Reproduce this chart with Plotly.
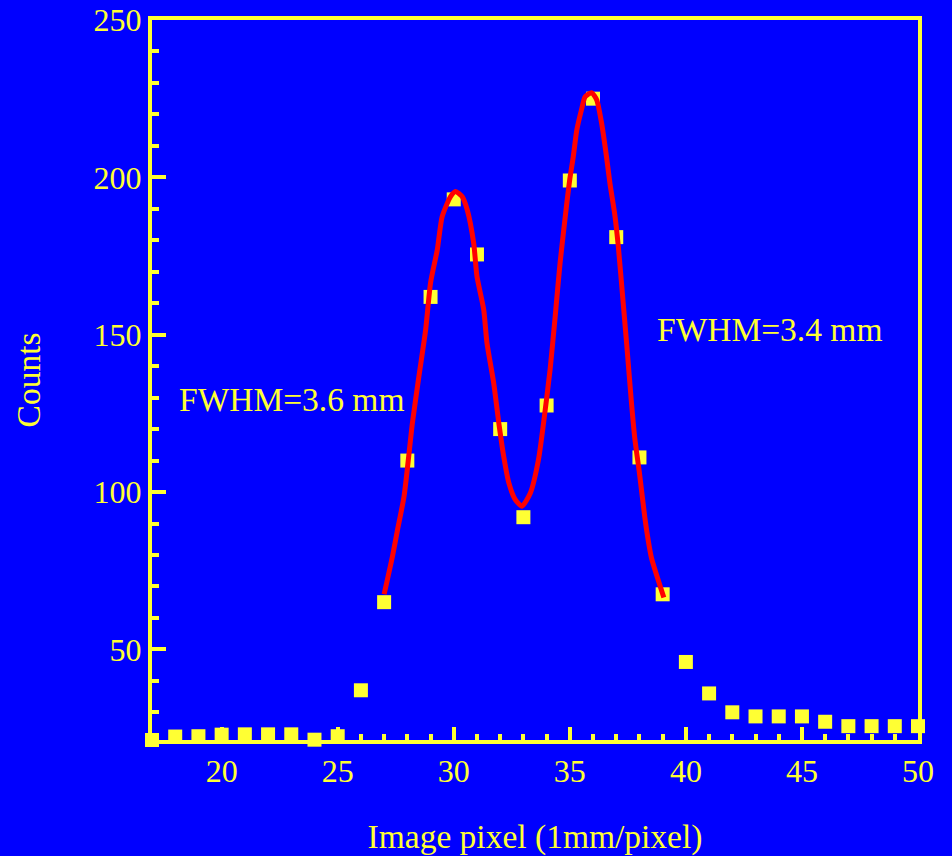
import plotly.graph_objects as go

# Measured data points (image pixel, counts)
pixel = [17, 18, 19, 20, 21, 22, 23, 24, 25, 26, 27, 28, 29, 30, 31, 32, 33,
         34, 35, 36, 37, 38, 39, 40, 41, 42, 43, 44, 45, 46, 47, 48, 49, 50]
counts = [21.2, 22.3, 22.4, 22.9, 23.0, 23.0, 23.0, 21.3, 22.4, 37.0, 65.0,
          110.0, 162.0, 193.0, 175.5, 120.0, 92.0, 127.5, 199.0, 225.0, 181.0,
          111.0, 67.5, 46.0, 36.0, 30.0, 28.7, 28.7, 28.7, 27.0, 25.6, 25.6,
          25.6, 25.6]

# Fit curve
fit_x = [27.0, 27.36, 27.58, 27.86, 28.22, 28.5, 28.79, 29.0, 29.29, 29.5,
         29.86, 30.08, 30.36, 30.58, 30.86, 31.0, 31.29, 31.43, 31.72, 31.94,
         32.15, 32.37, 32.65, 32.94, 33.3, 33.65, 33.87, 34.15, 34.37, 34.58,
         34.87, 35.0, 35.15, 35.3, 35.5, 35.66, 35.94, 36.16, 36.37, 36.58,
         36.73, 36.94, 37.09, 37.3, 37.45, 37.66, 37.8, 38.0, 38.23, 38.37,
         38.52, 39.05]
fit_y = [67.5, 79.6, 88.1, 98.7, 122.0, 136.8, 151.6, 166.5, 177.0, 187.5,
         193.9, 195.5, 193.9, 189.7, 179.0, 168.5, 158.0, 147.4, 134.7, 122.0,
         111.4, 103.0, 97.6, 95.5, 99.7, 110.3, 122.0, 138.9, 155.8, 172.8,
         191.8, 199.5, 206.6, 215.0, 221.4, 225.6, 226.9, 224.6, 217.2, 206.6,
         198.0, 188.0, 178.0, 160.0, 147.0, 128.0, 117.0, 106.0, 92.0, 85.0,
         79.0, 66.5]

annot_text = ["FWHM=3.6 mm", "FWHM=3.4 mm"]
annot_x = [18.08, 38.65]
annot_y = [129.4, 151.6]

BLUE = "#0000FF"
YEL = "#FFFF33"
FONT = "Liberation Serif, Times New Roman, serif"

fig = go.Figure()
fig.add_trace(go.Scatter(
    x=pixel, y=counts, mode="markers",
    marker=dict(symbol="square", size=14, color=YEL, line=dict(width=0)),
    cliponaxis=False, showlegend=False))
fig.add_trace(go.Scatter(
    x=fit_x, y=fit_y, mode="lines",
    line=dict(color="#FF0000", width=5, shape="spline", smoothing=0.6),
    showlegend=False))

for t, ax_, ay_ in zip(annot_text, annot_x, annot_y):
    fig.add_annotation(x=ax_, y=ay_, xref="x", yref="y", text=t,
                       showarrow=False, xanchor="left", yanchor="middle",
                       font=dict(family=FONT, size=33.5, color=YEL))

axis_common = dict(
    showline=True, linecolor=YEL, linewidth=4, mirror=True,
    ticks="inside", tickcolor=YEL, tickwidth=3.5,
    showgrid=False, zeroline=False, automargin=False,
    tickfont=dict(family=FONT, size=32, color=YEL),
)

fig.update_xaxes(
    range=[17, 50], tick0=0, dtick=5, ticklen=13,
    minor=dict(dtick=1, ticks="inside", ticklen=6, tickwidth=3.5, tickcolor=YEL, showgrid=False),
    title=dict(text="Image pixel (1mm/pixel)", font=dict(family=FONT, size=33.5, color=YEL), standoff=40),
    **axis_common)
fig.update_yaxes(
    range=[21.2, 250], tick0=0, dtick=50, ticklen=14,
    minor=dict(dtick=10, ticks="inside", ticklen=7, tickwidth=3.5, tickcolor=YEL, showgrid=False),
    title=dict(text="Counts", font=dict(family=FONT, size=33.5, color=YEL), standoff=44),
    **axis_common)

fig.update_layout(
    width=952, height=856,
    margin=dict(l=152, r=34, t=20, b=116),
    paper_bgcolor=BLUE, plot_bgcolor=BLUE,
)

fig.write_html("out.html")
